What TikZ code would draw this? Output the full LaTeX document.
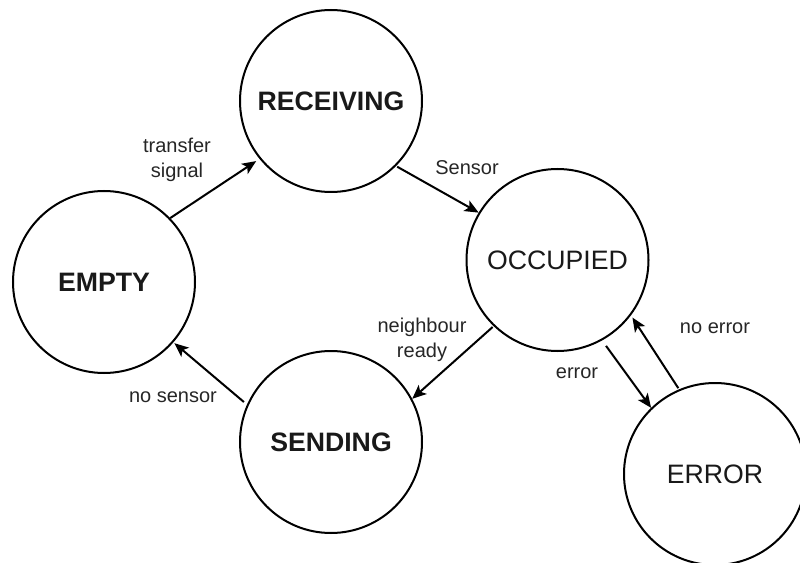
\documentclass[tikz,border=0pt]{standalone}
\usepackage{fontspec}
\setmainfont{Liberation Sans}
\usetikzlibrary{arrows.meta}
\begin{document}
\begin{tikzpicture}[x=0.75pt,y=-0.75pt,
  state/.style={circle,draw=black,line width=1.5pt,minimum size=136.5pt,inner sep=0pt,
    font=\fontsize{20}{24}\selectfont,text=black!90},
  boldstate/.style={state,font=\fontsize{20}{24}\selectfont\bfseries},
  trans/.style={line width=1.5pt,-{Stealth[length=10.5pt,width=9pt,inset=2.5pt]}},
  lbl/.style={font=\fontsize{15}{18.75}\selectfont,text=black!85,align=center,inner sep=0pt}]
\useasboundingbox (0,0) rectangle (800,563);

% states
\node[boldstate] (receiving) at (331,101) {RECEIVING};
\node[boldstate] (empty) at (104,282) {EMPTY};
\node[state] (occupied) at (557.5,260) {OCCUPIED};
\node[boldstate] (sending) at (331,442) {SENDING};
\node[state] (error) at (715,474) {ERROR};

% transitions
\draw[trans,shorten >=3pt] (empty.44) -- (receiving.219);
\draw[trans,shorten <=1pt] (receiving.-45) -- (occupied.149);
\draw[trans,shorten <=1pt] (occupied.226) -- (sending.28);
\draw[trans,shorten <=3pt,shorten >=1pt] (sending.156) -- (empty.-41);
\draw[trans,shorten <=5pt] (occupied.-61) -- (error.134);
\draw[trans,shorten <=1pt,shorten >=2pt] (error.113) -- (occupied.-37.5);

% transition labels
\node[lbl] (l1) at (177,160) {transfer\\signal};
\node[lbl] (l2) at (467,168) {Sensor};
\node[lbl] (l3) at (422,340) {neighbour\\ready};
\node[lbl] (l4) at (173,397) {no sensor};
\node[lbl] (l5) at (577,373) {error};
\node[lbl] (l6) at (715,328) {no error};
\end{tikzpicture}
\end{document}
